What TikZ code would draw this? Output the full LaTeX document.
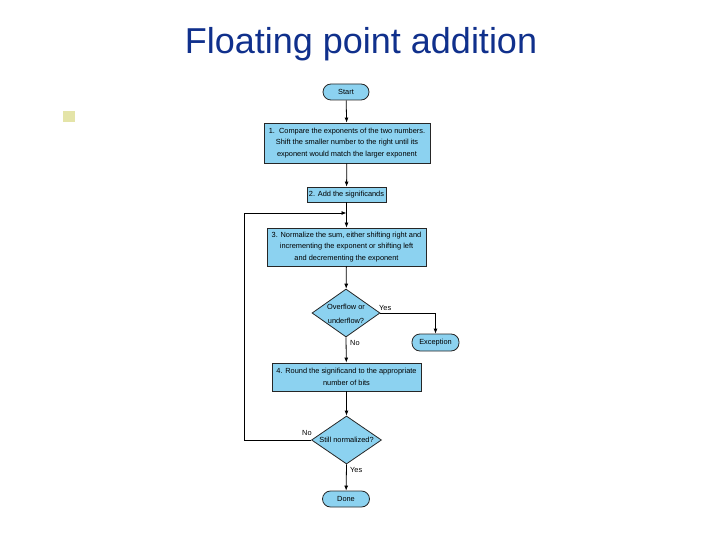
\documentclass[tikz,border=0pt]{standalone}
\usepackage{fontspec}
\setmainfont{Liberation Sans}
\usetikzlibrary{shapes.geometric,arrows.meta}
\definecolor{titleblue}{RGB}{16,48,140}
\definecolor{boxfill}{RGB}{140,210,240}
\definecolor{bulletfill}{RGB}{228,228,168}
\tikzset{
  box/.style={draw=black!85, fill=boxfill, line width=0.8pt, inner sep=0pt, align=center,
     font=\fontsize{7.4}{11.8}\selectfont},
  term/.style={draw=black!85, fill=boxfill, line width=0.8pt, rounded corners=8pt, inner sep=0pt,
     font=\fontsize{7.4}{9}\selectfont},
  dia/.style={draw=black!85, fill=boxfill, line width=0.8pt, diamond, inner sep=0pt},
  diatext/.style={align=center, font=\fontsize{7.4}{14}\selectfont, inner sep=0pt},
  lbl/.style={font=\fontsize{7.4}{9}\selectfont, inner sep=0pt},
  arr/.style={line width=0.8pt, -{Latex[length=5pt,width=4pt]}},
}
\begin{document}
\begin{tikzpicture}[x=1pt,y=-1pt]
\useasboundingbox (0,0) rectangle (720,540);
\node[anchor=base, text=titleblue, font=\fontsize{36}{40}\selectfont] (title) at (361,54) {Floating point addition};
\node[fill=bulletfill, minimum width=12pt, minimum height=11pt, inner sep=0pt] (bullet) at (69,116.5) {};

\node[term, minimum width=46pt, minimum height=16pt] (start) at (346,92) {Start};
\node[box, minimum width=166pt, minimum height=40pt] (b1) at (347,143)
  {1.\ \ Compare the exponents of the two numbers.\\Shift the smaller number to the right until its\\exponent would match the larger exponent};
\node[box, minimum width=79pt, minimum height=15pt] (b2) at (346.5,194.5) {2. Add the significands};
\node[box, minimum width=159pt, minimum height=38pt] (b3) at (346.5,247)
  {3. Normalize the sum, either shifting right and\\incrementing the exponent or shifting left\\and decrementing the exponent};
\node[dia, minimum width=68pt, minimum height=48pt] (d1) at (346,313) {};
\node[diatext] (d1t) at (346,314) {Overflow or\\underflow?};
\node[term, minimum width=47pt, minimum height=17pt] (exc) at (435.5,342.5) {Exception};
\node[box, minimum width=149pt, minimum height=28pt] (b4) at (346.5,377)
  {4. Round the significand to the appropriate\\number of bits};
\node[dia, minimum width=70pt, minimum height=48pt] (d2) at (346.5,440) {};
\node[diatext] (d2t) at (346.5,440) {Still normalized?};
\node[term, minimum width=47pt, minimum height=16pt] (done) at (346,499) {Done};

\coordinate (lc) at (244,213);
\coordinate (j) at (346.5,213);

\draw[arr] (start) -- (b1);
\draw[arr] (b1) -- (b2);
\draw[arr] (b2) -- (b3);
\draw[arr] (b3) -- (d1);
\draw[arr] (d1.east) -| (exc.north);
\draw[arr] (d1.south) -- (b4);
\draw[arr] (b4) -- (d2);
\draw[arr] (d2.south) -- (done);
\draw[arr] (d2.west) -| (lc) -- (j);

\node[lbl, anchor=west] (yes1) at (379,307.5) {Yes};
\node[lbl, anchor=west] (no1) at (350,343) {No};
\node[lbl, anchor=west] (no2) at (302,432.5) {No};
\node[lbl, anchor=west] (yes2) at (350,470) {Yes};
\end{tikzpicture}
\end{document}
